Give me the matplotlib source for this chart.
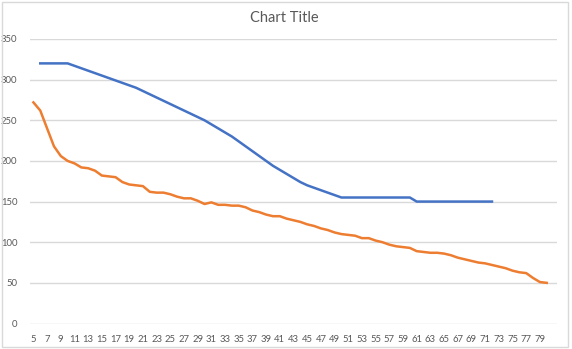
import matplotlib
matplotlib.use("Agg")
import matplotlib.pyplot as plt
from matplotlib.patches import Rectangle

categories = list(range(5, 82))  # 5..81
tick_labels = [str(c) for c in range(5, 80, 2)]

blue_x = list(range(6, 73))
blue_vals = [320, 320, 320, 320, 320,
             317, 314, 311, 308, 305, 302, 299, 296, 293, 290,
             286, 282, 278, 274, 270, 266, 262, 258, 254, 250,
             245, 240, 235, 230, 224, 218, 212, 206, 200, 194,
             189, 184, 179, 174, 170, 167, 164, 161, 158, 155,
             155, 155, 155, 155, 155, 155, 155, 155, 155, 155,
             150, 150, 150, 150, 150, 150, 150, 150, 150, 150, 150, 150]

orange_x = list(range(5, 81))
orange_vals = [272, 262, 240, 218, 206, 200, 197, 192, 191, 188,
               182, 181, 180, 174, 171, 170, 169, 162, 161, 161,
               159, 156, 154, 154, 151, 147, 149, 146, 146, 145,
               145, 143, 139, 137, 134, 132, 132, 129, 127, 125,
               122, 120, 117, 115, 112, 110, 109, 108, 105, 105,
               102, 100, 97, 95, 94, 93, 89, 88, 87, 87,
               86, 84, 81, 79, 77, 75, 74, 72, 70, 68,
               65, 63, 62, 56, 51, 50]

y_ticks = [0, 50, 100, 150, 200, 250, 300, 350]

W, H = 572, 349
fig = plt.figure(figsize=(W / 100, H / 100), dpi=100)
L, R, T, B = 30, 557, 39, 323.5
ax = fig.add_axes([L / W, 1 - B / H, (R - L) / W, (B - T) / H])

font = ['Lato', 'DejaVu Sans']
grey = '#595959'

ax.plot(blue_x, blue_vals, color='#4472C4', lw=1.8, solid_joinstyle='round')
ax.plot(orange_x, orange_vals, color='#ED7D31', lw=1.8, solid_joinstyle='round')

ax.set_xlim(categories[0] - 0.5, categories[-1] + 0.5)
ax.set_ylim(0, 350)
ax.set_yticks(y_ticks)
ax.set_yticklabels([str(v) for v in y_ticks], fontsize=6.8, color=grey, family=font)
ax.set_xticks([int(t) for t in tick_labels])
ax.set_xticklabels(tick_labels, fontsize=6.8, color=grey, family=font)
ax.tick_params(axis='both', length=0)
ax.tick_params(axis='y', pad=9)
ax.tick_params(axis='x', pad=8)
ax.grid(axis='y', color='#d9d9d9', lw=1)
ax.set_axisbelow(True)
for s in ax.spines.values():
    s.set_visible(False)

fig.text(284 / W, 1 - 18 / H, 'Chart Title', ha='center', va='center',
         fontsize=10.5, color=grey, family=font)

fig.patches.append(Rectangle((2 / W, 2 / H), 566 / W, 345 / H, transform=fig.transFigure,
                             fill=False, edgecolor='#d9d9d9', lw=1))

fig.savefig('out.png', dpi=100)
